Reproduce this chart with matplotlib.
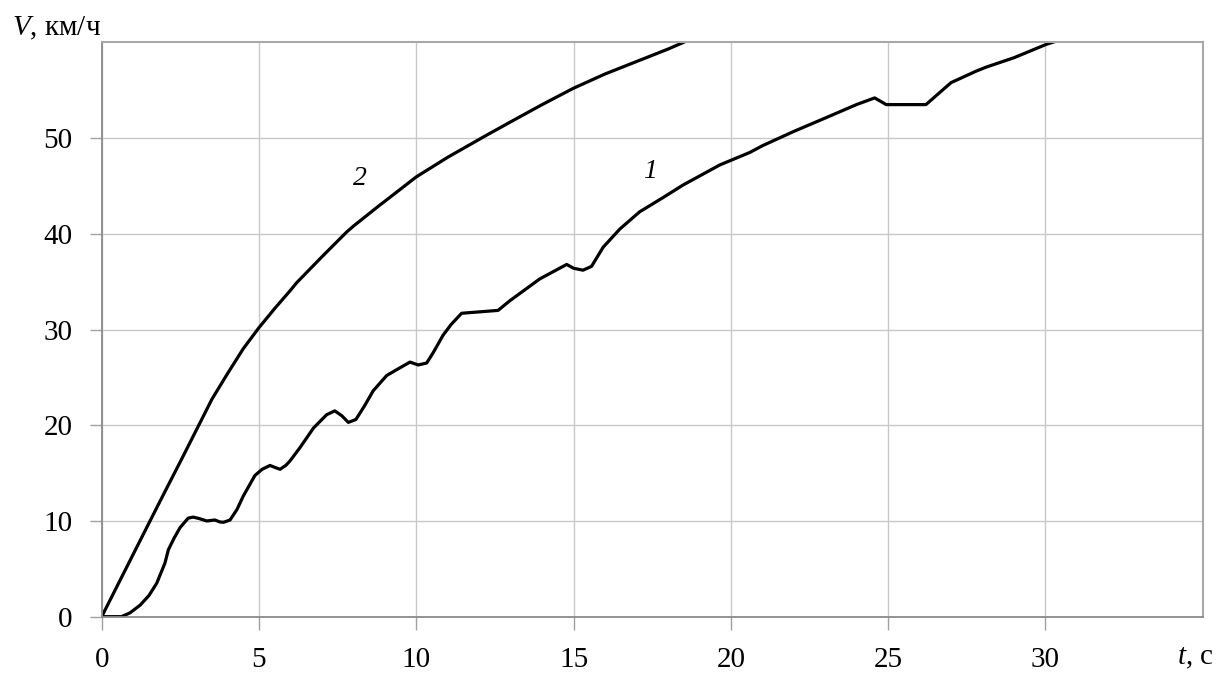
import matplotlib
matplotlib.use("Agg")
import matplotlib.pyplot as plt

# curve 1: speed vs time with gear shifts
t1 = [0, 0.63, 0.9, 1.22, 1.5, 1.75, 2.01, 2.12, 2.3, 2.49, 2.75, 2.91, 3.1, 3.34,
      3.6, 3.75, 3.87, 4.08, 4.3, 4.5, 4.87, 5.1, 5.35, 5.5, 5.67, 5.85, 5.98,
      6.3, 6.73, 7.15, 7.41, 7.63, 7.84, 8.08, 8.35, 8.63, 9.06, 9.48, 9.8,
      10.06, 10.33, 10.54, 10.85, 11.1, 11.44, 12.6, 12.97, 13.93, 14.78, 15.0,
      15.3, 15.57, 15.94, 16.47, 17.1, 17.85, 18.48, 19.65, 20.6, 21.0, 22.0,
      23.0, 23.99, 24.57, 24.94, 26.2, 27.0, 27.8, 28.1, 29.0, 30.03, 30.5]
v1 = [0, 0, 0.4, 1.2, 2.2, 3.5, 5.6, 7.0, 8.2, 9.3, 10.3, 10.4, 10.25, 10.0,
      10.1, 9.9, 9.86, 10.1, 11.2, 12.6, 14.75, 15.4, 15.8, 15.6, 15.4, 15.8, 16.25,
      17.65, 19.7, 21.1, 21.5, 21.0, 20.3, 20.6, 22.0, 23.6, 25.2, 26.0, 26.6,
      26.3, 26.5, 27.6, 29.4, 30.5, 31.7, 32.0, 33.0, 35.3, 36.8, 36.4,
      36.2, 36.6, 38.6, 40.5, 42.3, 43.8, 45.1, 47.2, 48.5, 49.2, 50.7,
      52.1, 53.5, 54.2, 53.5, 53.5, 55.8, 57.0, 57.4, 58.4, 59.8, 60.3]

# curve 2: smooth acceleration
t2 = [0, 1.53, 2.0, 2.5, 3.07, 3.5, 4.0, 4.5, 5.0, 5.5, 6.0, 6.2, 7.0, 7.79,
      8.0, 8.84, 9.0, 10.0, 11.0, 12.23, 13.0, 14.0, 14.99, 16.0, 17.0, 18.0, 18.7]
v2 = [0, 9.96, 13.0, 16.2, 19.9, 22.7, 25.4, 28.0, 30.2, 32.2, 34.1, 34.9, 37.6, 40.2,
      40.8, 43.0, 43.4, 45.95, 48.0, 50.3, 51.7, 53.5, 55.2, 56.7, 58.0, 59.3, 60.3]

xticks = [0, 5, 10, 15, 20, 25, 30]
yticks = [0, 10, 20, 30, 40, 50]

plt.rcParams['font.family'] = ['Liberation Serif', 'DejaVu Serif']
plt.rcParams['mathtext.fontset'] = 'custom'
plt.rcParams['mathtext.rm'] = 'Liberation Serif'
plt.rcParams['mathtext.it'] = 'Liberation Serif:italic'

fig = plt.figure(figsize=(12.18, 6.73), dpi=100)
ax = fig.add_axes([0.0835, 0.0837, 0.904, 0.8533])

ax.plot(t1, v1, color='black', lw=2.3, solid_joinstyle='round')
ax.plot(t2, v2, color='black', lw=2.3, solid_joinstyle='round')

ax.set_xlim(0, 35)
ax.set_ylim(0, 60)
ax.set_xticks(xticks)
ax.set_yticks(yticks)
ax.grid(True, color='#c8c8c8', lw=1.0)
ax.tick_params(axis='both', colors='#a0a0a0', labelcolor='black', labelsize=21,
               length=9, width=1.0)
ax.tick_params(axis='x', pad=13)
ax.tick_params(axis='y', pad=12)
for side in ['left', 'bottom']:
    ax.spines[side].set_color('#8a8a8a')
    ax.spines[side].set_linewidth(1.3)
for side in ['top', 'right']:
    ax.spines[side].set_color('#a8a8a8')
    ax.spines[side].set_linewidth(1.5)

# curve numbers
ax.text(8.2, 45.8, '2', fontsize=20, style='italic', ha='center', va='center')
ax.text(17.42, 46.5, '1', fontsize=20, style='italic', ha='center', va='center')

# axis captions
fig.text(12 / 1218, 1 - 28 / 673, r'$V$, км/ч', fontsize=21, ha='left', va='center')
fig.text(1214 / 1218, 1 - 664 / 673, r'$t$, с', fontsize=21, ha='right', va='baseline')

fig.savefig('out.png', dpi=100)
